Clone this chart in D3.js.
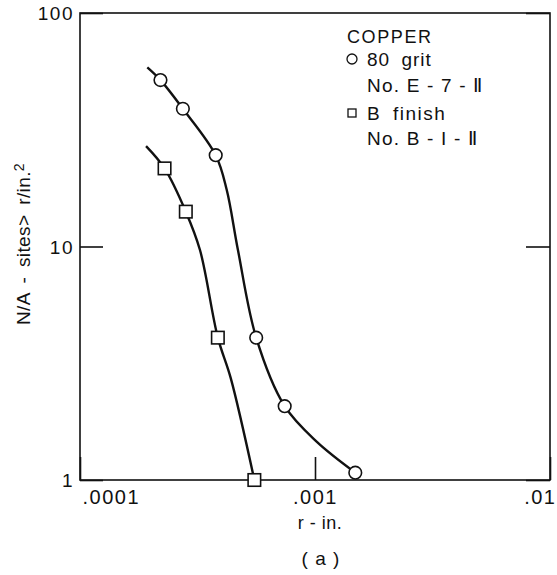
<!DOCTYPE html>
<html>
<head>
<meta charset="utf-8">
<script src="https://cdn.jsdelivr.net/npm/d3@7"></script>
<style>
  html, body { margin: 0; padding: 0; background: #fff; }
  svg { display: block; }
  text { font-family: "Liberation Sans", Arial, sans-serif; fill: #111; }
</style>
</head>
<body>
<svg id="chart" width="557" height="575"></svg>
<script>
// ---- data ----
// 80 grit, No. E-7-II (circles)
const gritR = [0.000220, 0.000274, 0.000378, 0.000562, 0.000743, 0.001484];
const gritN = [51.6, 38.9, 24.6, 4.07, 2.07, 1.075];
// extra points tracing the hand-drawn curve through the circles
const gritCurveR = [0.0001934, 0.000421, 0.000470, 0.001016];
const gritCurveN = [58.5, 17.5, 9.66, 1.46];

// B finish, No. B-1-II (squares)
const finishR = [0.000229, 0.000282, 0.000386, 0.000552];
const finishN = [21.6, 14.1, 4.07, 1.0];
const finishCurveR = [0.000191, 0.000324, 0.000438];
const finishCurveN = [26.9, 9.66, 2.73];

const xTicks = [0.0001, 0.001, 0.01];
const xTickLabels = [".0001", ".001", ".01"];
const yTicks = [1, 10, 100];
const yTickLabels = ["1", "10", "100"];

// ---- layout ----
const svg = d3.select("#chart");
const L = 80, R = 550, T = 13, B = 480;

const x = d3.scaleLog().domain([0.0001, 0.01]).range([L, R]);
const y = d3.scaleLog().domain([1, 100]).range([B, T]);

// frame
svg.append("rect")
  .attr("x", L).attr("y", T).attr("width", R - L).attr("height", B - T)
  .attr("fill", "none").attr("stroke", "#111").attr("stroke-width", 1.6);

// left axis (ticks inside)
const yAxis = svg.append("g").attr("transform", `translate(${L},0)`)
  .call(d3.axisLeft(y).tickValues(yTicks).tickSizeInner(-23).tickSizeOuter(0)
    .tickPadding(6).tickFormat((d, i) => yTickLabels[i]));
yAxis.select(".domain").remove();
yAxis.selectAll(".tick line").attr("stroke", "#111").attr("stroke-width", 1.6);
yAxis.selectAll(".tick text")
  .attr("x", -6).attr("dy", "0.35em")
  .style("font-size", "19px").style("letter-spacing", "1.5px")
  .style("font-family", "'Liberation Sans', Arial, sans-serif").attr("fill", "#111");

// right axis (ticks inside, no labels)
const yAxisR = svg.append("g").attr("transform", `translate(${R},0)`)
  .call(d3.axisRight(y).tickValues(yTicks).tickSizeInner(-24).tickSizeOuter(0).tickFormat(""));
yAxisR.select(".domain").remove();
yAxisR.selectAll(".tick line").attr("stroke", "#111").attr("stroke-width", 1.6);

// bottom axis (ticks inside)
const xAxis = svg.append("g").attr("transform", `translate(0,${B})`)
  .call(d3.axisBottom(x).tickValues(xTicks).tickSizeInner(-23).tickSizeOuter(0)
    .tickFormat((d, i) => xTickLabels[i]));
xAxis.select(".domain").remove();
xAxis.selectAll(".tick line").attr("stroke", "#111").attr("stroke-width", 1.6);
xAxis.selectAll(".tick text")
  .attr("y", 19).attr("dy", "0")
  .attr("dominant-baseline", "middle")
  .attr("text-anchor", (d, i) => i === 0 ? "start" : (i === 2 ? "end" : "middle"))
  .attr("x", (d, i) => i === 0 ? 2 : (i === 2 ? 6 : 0))
  .style("font-size", "20px").style("letter-spacing", "1.5px")
  .style("font-family", "'Liberation Sans', Arial, sans-serif").attr("fill", "#111");

// axis titles
svg.append("text")
  .attr("x", 320).attr("y", 529)
  .attr("text-anchor", "middle")
  .style("font-size", "18px").style("letter-spacing", "0.5px")
  .text("r - in.");

svg.append("text")
  .attr("x", 321).attr("y", 565)
  .attr("text-anchor", "middle")
  .style("font-size", "19px").style("letter-spacing", "1px")
  .text("( a )");

const yl = svg.append("text")
  .attr("transform", "translate(30,244) rotate(-90)")
  .attr("text-anchor", "middle")
  .style("font-size", "19px").style("word-spacing", "4px").style("letter-spacing", "0.4px");
yl.append("tspan").text("N/A - sites> r/in.");
yl.append("tspan").attr("dy", "-0.45em").style("font-size", "14px").text("2");

// curves
function pts(rs, ns) { return rs.map((r, i) => [r, ns[i]]); }
const line = d3.line()
  .x(d => x(d[0])).y(d => y(d[1]))
  .curve(d3.curveCatmullRom.alpha(0.5));

const gritAll = pts(gritR, gritN).concat(pts(gritCurveR, gritCurveN)).sort((a, b) => a[0] - b[0]);
const finishAll = pts(finishR, finishN).concat(pts(finishCurveR, finishCurveN)).sort((a, b) => a[0] - b[0]);

svg.append("path").datum(gritAll).attr("d", line)
  .attr("fill", "none").attr("stroke", "#111").attr("stroke-width", 2.4);
svg.append("path").datum(finishAll).attr("d", line)
  .attr("fill", "none").attr("stroke", "#111").attr("stroke-width", 2.4);

// markers
svg.selectAll("circle.grit").data(pts(gritR, gritN)).enter().append("circle")
  .attr("class", "grit")
  .attr("cx", d => x(d[0])).attr("cy", d => y(d[1])).attr("r", 6.3)
  .attr("fill", "#fff").attr("stroke", "#111").attr("stroke-width", 1.6);

const s = 12.5;
svg.selectAll("rect.fin").data(pts(finishR, finishN)).enter().append("rect")
  .attr("class", "fin")
  .attr("x", d => x(d[0]) - s / 2).attr("y", d => y(d[1]) - s / 2)
  .attr("width", s).attr("height", s)
  .attr("fill", "#fff").attr("stroke", "#111").attr("stroke-width", 1.6);

// legend
const lg = svg.append("g");
lg.append("text").attr("x", 347).attr("y", 43)
  .style("font-size", "18px").style("letter-spacing", "1.6px").text("COPPER");
lg.append("circle").attr("cx", 352).attr("cy", 59).attr("r", 5)
  .attr("fill", "#fff").attr("stroke", "#111").attr("stroke-width", 1.3);
lg.append("text").attr("x", 367).attr("y", 66)
  .style("font-size", "19px").style("word-spacing", "5px").style("letter-spacing", "1px").text("80 grit");
lg.append("text").attr("x", 367).attr("y", 92)
  .style("font-size", "19px").style("letter-spacing", "1.2px").text("No. E - 7 - Ⅱ");
lg.append("rect").attr("x", 348).attr("y", 109).attr("width", 8).attr("height", 8)
  .attr("fill", "#fff").attr("stroke", "#111").attr("stroke-width", 1.3);
lg.append("text").attr("x", 367).attr("y", 120)
  .style("font-size", "19px").style("word-spacing", "5px").style("letter-spacing", "1.5px").text("B finish");
lg.append("text").attr("x", 367).attr("y", 145)
  .style("font-size", "19px").style("letter-spacing", "1.2px").text("No. B - I - Ⅱ");
</script>
</body>
</html>
